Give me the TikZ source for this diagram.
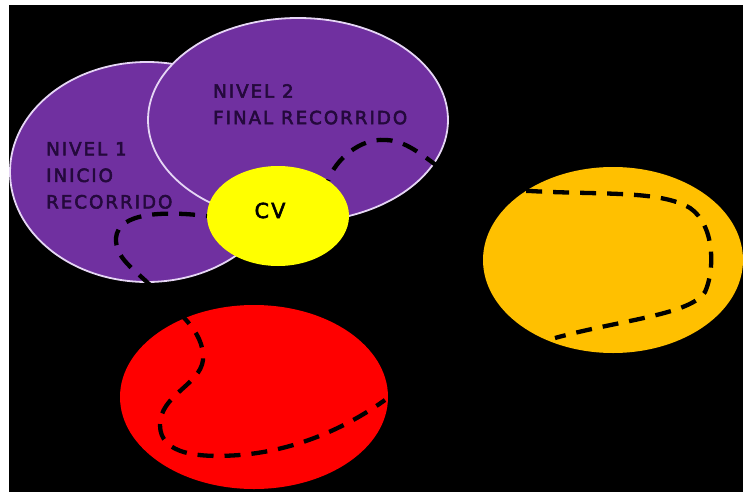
\documentclass[tikz,border=0pt]{standalone}
\usepackage{fontspec}
\usepackage{tikz}
\usepackage{xcolor}
\usetikzlibrary{shapes.geometric}
\newfontfamily\zonefont[LetterSpace=11,FakeBold=3]{DejaVu Sans}
\definecolor{lvlpurple}{HTML}{7030A0}
\definecolor{rimlilac}{HTML}{E6D6F5}
\definecolor{inkpurple}{HTML}{24093C}
\definecolor{cvyellow}{HTML}{FFFF00}
\definecolor{redzone}{HTML}{FF0000}
\definecolor{amberzone}{HTML}{FFC000}

\begin{document}
\begin{tikzpicture}%
  [x=1pt,y=-1pt,
   route line/.style={line width=4.3pt,dash pattern=on 16pt off 11pt,dash phase=15pt,black}]
  \tikzstyle{zone node}=[ellipse,inner sep=0,outer sep=0]
  \tikzstyle{lvl node}=[zone node,fill=lvlpurple,draw=rimlilac,line width=1.8pt]
  \tikzstyle{txt node}=[inner sep=0,anchor=north west,align=left,text=inkpurple,
    font=\zonefont\fontsize{18.2}{26.5}\selectfont]
  \useasboundingbox (0,0) rectangle (743,492);
  \fill[white] (0,0) rectangle (743,492);
  \fill[black] (9,5) rectangle (743,492);
  \node(n1)[lvl node,minimum width=274pt,minimum height=220pt] at (147,172) {};
  \node(n2)[lvl node,minimum width=300pt,minimum height=204pt] at (298,120) {};
  \node(red)[zone node,fill=redzone,minimum width=268pt,minimum height=184pt] at (254,397) {};
  \node(amber)[zone node,fill=amberzone,minimum width=260pt,minimum height=186pt] at (613,260) {};
  \node(cv)[zone node,fill=cvyellow,minimum width=142pt,minimum height=100pt] at (278,216) {};
  \node(t1)[txt node] at (46,142) {NIVEL 1\\INICIO\\RECORRIDO};
  \node(t2)[txt node] at (213,84) {NIVEL 2\\FINAL RECORRIDO};
  \node(cvt)[anchor=base,inner sep=0,font=\zonefont\fontsize{20.6}{24}\selectfont] at (270,218) {CV};
  \coordinate(redend) at (385,400);
  \coordinate(amberend) at (555,338);
  \draw[route line] (cv.west) .. controls (165,211) and (118,212) .. (116,238)
    .. controls (115,258) and (135,270) .. (150,285)
    .. controls (175,310) and (205,330) .. (203,360)
    .. controls (200,385) and (160,395) .. (160,425)
    .. controls (160,455) and (200,458) .. (240,455)
    .. controls (300,450) and (350,425) .. (redend);
  \draw[route line] (cv.north east) .. controls (335,160) and (360,138) .. (385,140)
    .. controls (405,140) and (422,155) .. (440,168)
    .. controls (470,190) and (500,190) .. (530,191)
    .. controls (600,195) and (660,190) .. (690,208)
    .. controls (715,225) and (715,270) .. (705,292)
    .. controls (690,315) and (620,320) .. (amberend);
\end{tikzpicture}
\end{document}
